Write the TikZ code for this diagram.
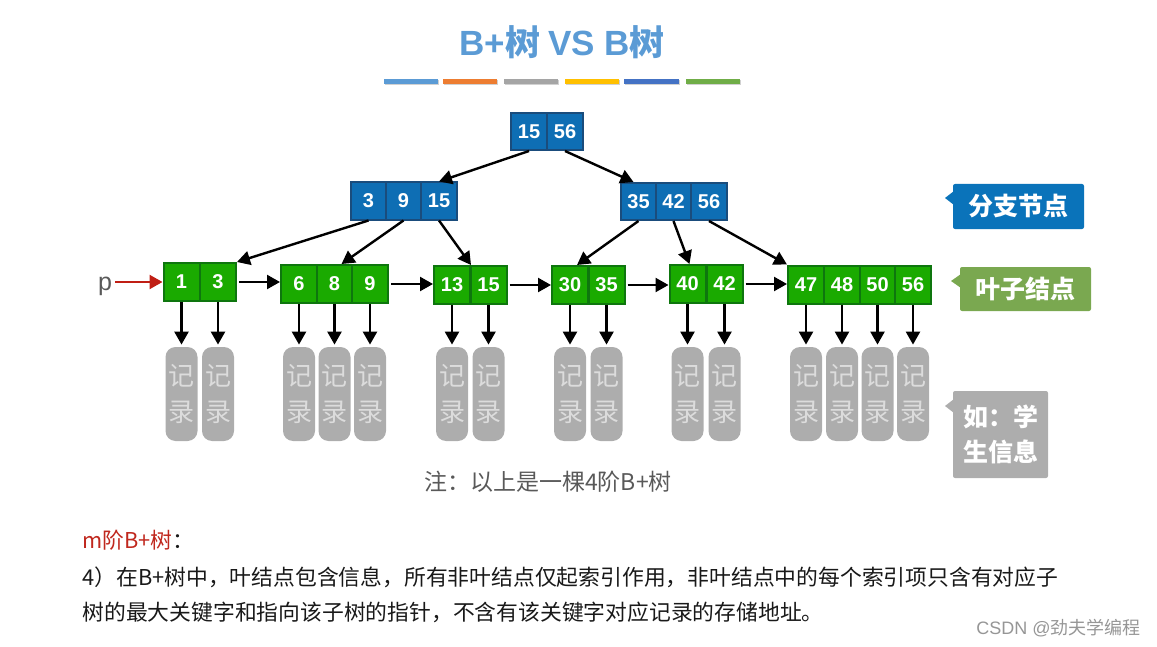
\documentclass[tikz,border=0pt]{standalone}
\usepackage{fontspec}
\setmainfont{Noto Sans CJK SC}
\newfontfamily\lat{Liberation Sans}
\usetikzlibrary{arrows.meta,calc}
\definecolor{titleblue}{RGB}{91,155,213}
\definecolor{barA}{RGB}{91,155,213}
\definecolor{barB}{RGB}{237,125,49}
\definecolor{barC}{RGB}{165,165,165}
\definecolor{barD}{RGB}{255,192,0}
\definecolor{barE}{RGB}{68,114,196}
\definecolor{barF}{RGB}{112,173,71}
\definecolor{iblue}{RGB}{14,110,180}
\definecolor{iborder}{RGB}{26,76,124}
\definecolor{lgreen}{RGB}{26,170,0}
\definecolor{lborder}{RGB}{14,118,14}
\definecolor{recgray}{RGB}{173,173,173}
\definecolor{rectext}{RGB}{220,220,220}
\definecolor{cblue}{RGB}{10,115,186}
\definecolor{cgreen}{RGB}{122,168,80}
\definecolor{cgray}{RGB}{173,173,173}
\definecolor{notegray}{RGB}{89,89,89}
\definecolor{pred}{RGB}{192,30,20}
\definecolor{mred}{RGB}{192,40,30}
\definecolor{wmgray}{RGB}{150,150,150}
\tikzset{
  cellbase/.style={draw, line width=1pt, minimum width=18pt, minimum height=18.5pt,
    inner sep=0pt, text=white, font=\lat\bfseries\fontsize{10}{12}\selectfont},
  icell/.style={cellbase, fill=iblue, draw=iborder},
  lcell/.style={cellbase, fill=lgreen, draw=lborder, minimum height=19pt},
  recbox/.style={fill=recgray, rounded corners=5pt, minimum width=16pt, minimum height=47pt,
    inner sep=0pt, text=rectext, align=center, font=\fontsize{13}{18}\selectfont},
  arr/.style={line width=1.2pt, -{Triangle[length=6.5pt,width=7pt]}},
  callbox/.style={rounded corners=1pt, inner sep=0pt, text=white,
    font=\bfseries\fontsize{12.5}{17.5}\selectfont},
  bodytext/.style={anchor=west, inner sep=0pt, text=black!90, font=\fontsize{10.9}{13}\selectfont},
}
\begin{document}
\begin{tikzpicture}[x=0.5pt,y=-0.5pt]
\useasboundingbox (0,0) rectangle (1157,647);
% title
\node[text=titleblue, font=\bfseries\fontsize{17.5}{20}\selectfont] (title) at (562,42)
  {{\lat B+}树 {\lat VS B}树};
% colour bars
\foreach \xa/\xb/\cc in {384/438/barA,443/497/barB,504/558/barC,565/619/barD,624/679/barE,686/740/barF}{
  \fill[black!18] (\xa+1,80.5) rectangle (\xb+1,85.5);
  \fill[\cc] (\xa,79) rectangle (\xb,84);
}
% root
\node[icell] (r1) at (529,131.5) {15};
\node[icell] (r2) at (565,131.5) {56};
% level 2
\node[icell] (a1) at (368.5,201) {3};
\node[icell] (a2) at (403.5,201) {9};
\node[icell] (a3) at (439,201) {15};
\node[icell] (b1) at (638.5,201.5) {35};
\node[icell] (b2) at (673.5,201.5) {42};
\node[icell] (b3) at (709,201.5) {56};
% leaves
\node[lcell] (l1a) at (181.5,282) {1};
\node[lcell] (l1b) at (218,282) {3};
\node[lcell] (l2a) at (299,284) {6};
\node[lcell] (l2b) at (334.5,284) {8};
\node[lcell] (l2c) at (370,284) {9};
\node[lcell] (l3a) at (452,285) {13};
\node[lcell] (l3b) at (488.5,285) {15};
\node[lcell] (l4a) at (570,285) {30};
\node[lcell] (l4b) at (606.5,285) {35};
\node[lcell] (l5a) at (687.5,284) {40};
\node[lcell] (l5b) at (724.5,284) {42};
\node[lcell] (l6a) at (806,284.5) {47};
\node[lcell] (l6b) at (842,284.5) {48};
\node[lcell] (l6c) at (877.5,284.5) {50};
\node[lcell] (l6d) at (913,284.5) {56};
% tree connectors
\draw[arr] (r1.south) -- (a3.north);
\draw[arr] (r2.south) -- ([xshift=-2.5pt]b1.north);
\draw[arr] (a1.south) -- (l1b.north east);
\draw[arr] (a2.south) -- ([xshift=3.5pt]l2b.north);
\draw[arr] (a3.south) -- (l3a.north east);
\draw[arr] (b1.south) -- ([xshift=3.5pt]l4a.north);
\draw[arr] (b2.south) -- ([xshift=1pt]l5a.north);
\draw[arr] (b3.south) -- (l6a.north west);
% leaf chain
\draw[arr] ([xshift=1pt]l1b.east) -- (l1b.east -| l2a.west);
\draw[arr] ([xshift=1pt]l2c.east) -- (l2c.east -| l3a.west);
\draw[arr] ([xshift=1pt]l3b.east) -- (l3b.east -| l4a.west);
\draw[arr] ([xshift=1pt]l4b.east) -- (l4b.east -| l5a.west);
\draw[arr] ([xshift=1pt]l5b.east) -- (l5b.east -| l6a.west);
% p pointer
\node[text=notegray, font=\lat\fontsize{12.5}{14}\selectfont, anchor=base, inner sep=0pt] (p) at (105,290) {p};
\coordinate (pstart) at (115,282);
\draw[line width=1.2pt, draw=pred, -{Triangle[length=6.5pt,width=7pt]}, color=pred] (pstart) -- (l1a.west);
% records
\coordinate (recline) at (0,394);
\foreach \c in {l1a,l1b,l2a,l2b,l2c,l3a,l3b,l4a,l4b,l5a,l5b,l6a,l6b,l6c,l6d}{
  \node[recbox] (rec-\c) at (\c |- recline) {记\\录};
  \draw[arr, shorten >=1pt] (\c.south) -- (rec-\c.north);
}
% callouts
\node[callbox, fill=cblue, minimum width=65.5pt, minimum height=22.5pt] (c1) at (1018.5,206.5) {分支节点};
\fill[cblue] (954,191) -- (945,198) -- (954,205) -- cycle;
\node[callbox, fill=cgreen, minimum width=65.5pt, minimum height=22pt] (c2) at (1025.5,289) {叶子结点};
\fill[cgreen] (961,274) -- (951,281) -- (961,288) -- cycle;
\node[callbox, fill=cgray, minimum width=47.5pt, minimum height=43.5pt, align=left] (c3) at (1000.5,434.5) {如：学\\生信息};
\fill[cgray] (954,399) -- (945,406) -- (954,413) -- cycle;
% note
\node[text=notegray, font=\fontsize{11.5}{13}\selectfont, inner sep=0pt] (note) at (548,482) {注：以上是一棵4阶B+树};
% body text
\node[bodytext] (m) at (82,540) {\textcolor{mred}{m阶B+树}：};
\node[bodytext] (t1) at (82,577) {4）在B+树中，叶结点包含信息，所有非叶结点仅起索引作用，非叶结点中的每个索引项只含有对应子};
\node[bodytext] (t2) at (82,612) {树的最大关键字和指向该子树的指针，不含有该关键字对应记录的存储地址。};
% watermark
\node[text=wmgray, font=\fontsize{9}{11}\selectfont, anchor=east, inner sep=0pt] (csdn) at (1141,628) {{\lat CSDN @}劲夫学编程};
\end{tikzpicture}
\end{document}
